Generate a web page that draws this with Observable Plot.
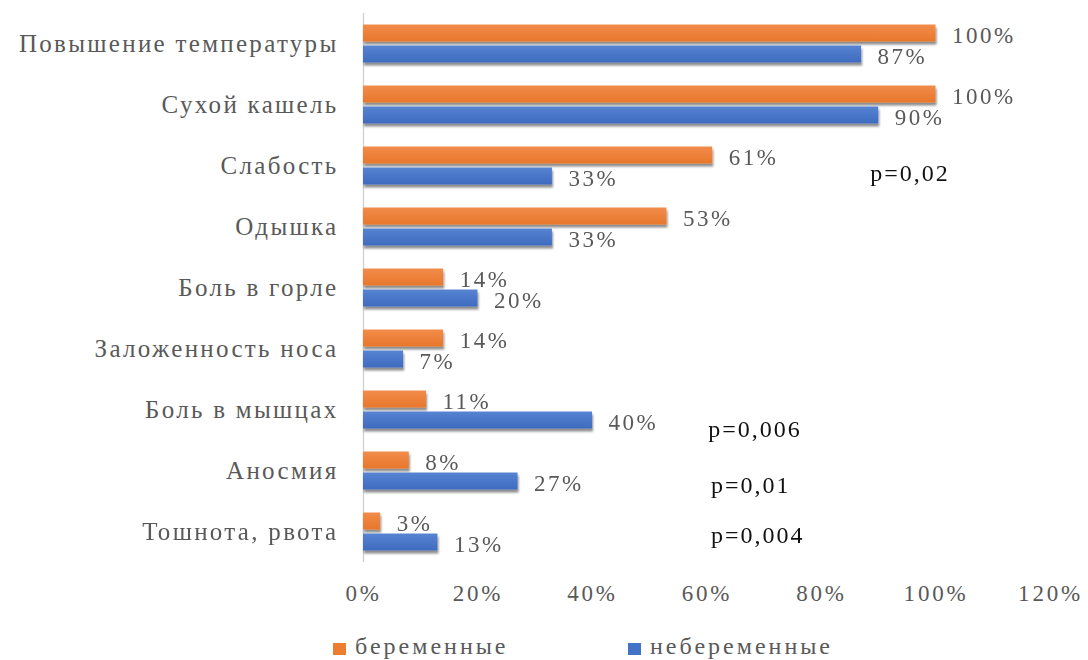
<!DOCTYPE html>
<html>
<head>
<meta charset="utf-8">
<script src="https://cdn.jsdelivr.net/npm/d3@7"></script>
<script src="https://cdn.jsdelivr.net/npm/@observablehq/plot@0.6"></script>
<style>
  html, body { margin: 0; padding: 0; background: #fff; }
  #wrap { position: relative; width: 1088px; height: 660px; overflow: hidden; font-family: "Liberation Serif", serif; }
  .lg { position: absolute; top: 633px; display: flex; align-items: center; font-size: 24px; color: #595959; letter-spacing: 3px; }
  .sw { width: 13px; height: 12px; margin-right: 9px; margin-top: 4px; }
</style>
</head>
<body>
<div id="wrap"></div>
<script>
const categories = ["Повышение температуры", "Сухой кашель", "Слабость", "Одышка", "Боль в горле", "Заложенность носа", "Боль в мышцах", "Аносмия", "Тошнота, рвота"];
const series = ["беременные", "небеременные"];
const pregnant = [1.00, 1.00, 0.61, 0.53, 0.14, 0.14, 0.11, 0.08, 0.03];
const nonPregnant = [0.87, 0.90, 0.33, 0.33, 0.20, 0.07, 0.40, 0.27, 0.13];
const xTicks = [0, 0.2, 0.4, 0.6, 0.8, 1.0, 1.2];
const pCategories = ["Слабость", "Боль в мышцах", "Аносмия", "Тошнота, рвота"];
const pLabels = ["p=0,02", "p=0,006", "p=0,01", "p=0,004"];
const pX = [0.885, 0.602, 0.607, 0.607];
const pDy = [7, 19, 14, 3];
const colors = ["#ED7D31", "#4472C4"];

const rows = [];
categories.forEach((c, i) => {
  rows.push({category: c, series: series[0], value: pregnant[i]});
  rows.push({category: c, series: series[1], value: nonPregnant[i]});
});
const pData = pCategories.map((c, i) => ({category: c, label: pLabels[i], x: pX[i], dy: pDy[i]}));
const pct = v => Math.round(v * 100) + "%";

const chart = Plot.plot({
  width: 1088,
  height: 620,
  marginLeft: 363,
  marginRight: 38,
  marginTop: 12.5,
  marginBottom: 58.5,
  style: {fontFamily: "'Liberation Serif', serif", background: "white", color: "#595959"},
  x: {domain: [0, 1.2], axis: null},
  y: {domain: series, paddingInner: 0.2, paddingOuter: 0.49, axis: null},
  fy: {domain: categories, padding: 0, axis: null},
  marks: [
    Plot.ruleX([0], {stroke: "#d0d0d0", strokeWidth: 1.3}),
    Plot.barX(rows.filter(d => d.series === series[0]), {x: "value", y: "series", fy: "category", fill: "url(#gO)"}),
    Plot.barX(rows.filter(d => d.series === series[1]), {x: "value", y: "series", fy: "category", fill: "url(#gB)"}),
    Plot.text(rows, {x: "value", y: "series", fy: "category", text: d => pct(d.value), dx: 16, dy: 2, textAnchor: "start", fill: "#595959", fontSize: 23, className: "vlab"}),
    Plot.axisFy({anchor: "left", tickSize: 0, tickPadding: 25, fontSize: 25, label: null, fill: "#595959", className: "fylab"}),
    Plot.axisX({ticks: xTicks, tickFormat: pct, tickSize: 0, tickPadding: 22, fontSize: 23, label: null, fill: "#595959", className: "xlab"}),
    ...pData.map(d => Plot.text([d], {x: "x", fy: "category", frameAnchor: "middle", text: "label", dy: d.dy, textAnchor: "start", fill: "#111", fontSize: 24, className: "plab"}))
  ]
});

const ns = "http://www.w3.org/2000/svg";
const defs = document.createElementNS(ns, "defs");
defs.innerHTML = `
  <linearGradient id="gO" x1="0" y1="0" x2="0" y2="1">
    <stop offset="0" stop-color="#F28C4A"/><stop offset="1" stop-color="#E8772C"/>
  </linearGradient>
  <linearGradient id="gB" x1="0" y1="0" x2="0" y2="1">
    <stop offset="0" stop-color="#5683D2"/><stop offset="1" stop-color="#3F6BBF"/>
  </linearGradient>
  <filter id="sh" x="-5%" y="-30%" width="110%" height="180%">
    <feDropShadow dx="1" dy="3" stdDeviation="1.3" flood-color="#000" flood-opacity="0.45"/>
  </filter>`;
chart.insertBefore(defs, chart.firstChild);
chart.querySelectorAll('g[aria-label="bar"]').forEach(g => g.setAttribute("filter", "url(#sh)"));
const spacing = {vlab: 2.5, fylab: 2.3, xlab: 2.8, plab: 2};
Object.entries(spacing).forEach(([cls, ls]) => {
  chart.querySelectorAll("." + cls).forEach(g => g.setAttribute("letter-spacing", ls));
});

const wrap = document.getElementById("wrap");
wrap.appendChild(chart);

[[series[0], colors[0], 333], [series[1], colors[1], 628]].forEach(([name, col, left]) => {
  const item = document.createElement("div");
  item.className = "lg";
  item.style.left = left + "px";
  const sw = document.createElement("div");
  sw.className = "sw";
  sw.style.background = col;
  const t = document.createElement("span");
  t.textContent = name;
  item.appendChild(sw);
  item.appendChild(t);
  wrap.appendChild(item);
});
</script>
</body>
</html>
